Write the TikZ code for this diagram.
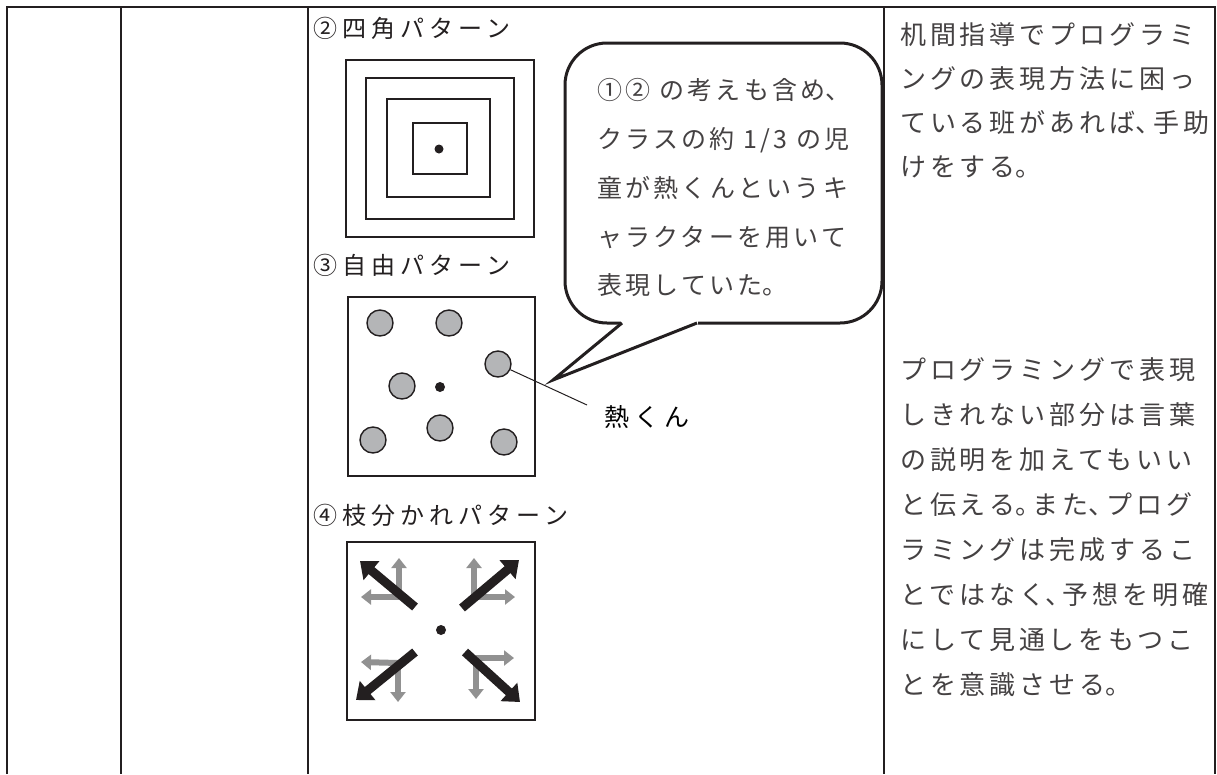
\documentclass[tikz,border=0pt]{standalone}
\usepackage{fontspec}
\usetikzlibrary{arrows.meta}
\newfontfamily\jpg[LetterSpace=21]{Noto Sans CJK JP}
\newfontfamily\jpm[LetterSpace=13]{Noto Sans CJK JP}
\newfontfamily\jpr[LetterSpace=15]{Noto Sans CJK JP}
\newcommand\jten{\makebox[0.68em][l]{、}}
\newcommand\jmaru{\makebox[0.68em][l]{。}}
\definecolor{ink}{RGB}{35,31,32}
\definecolor{dotfill}{RGB}{180,181,183}
\definecolor{arrgray}{RGB}{145,145,145}
\begin{document}
\begin{tikzpicture}[x=1pt,y=-1pt,
  rule/.style={line width=2.5pt, draw=ink},
  lbl/.style={anchor=west, inner sep=0pt, font=\jpg\fontsize{24}{28}\selectfont, text=ink},
  calltext/.style={anchor=west, inner sep=0pt, font=\jpm\fontsize{25}{28}\selectfont, text=ink!85},
  righttext/.style={anchor=west, inner sep=0pt, font=\jpr\fontsize{26}{28}\selectfont, text=ink!85},
  frame/.style={draw=ink, line width=2pt},
  chara/.style={circle, draw=ink, line width=1.4pt, fill=dotfill, minimum size=26pt, inner sep=0pt},
  centre/.style={circle, fill=ink, minimum size=10pt, inner sep=0pt},
  bigarrow/.style={draw=ink, line width=9pt, -{Triangle[length=15pt,width=24pt]}},
  smallarrow/.style={draw=arrgray, line width=6pt, -{Triangle[length=10pt,width=15pt]}},
]
\useasboundingbox (0,0) rectangle (1217,774);
% table rules
\draw[rule] (7,774) -- (7,7) -- (1215,7) -- (1215,774);
\draw[rule] (121,7) -- (121,774);
\draw[rule] (308,7) -- (308,774);
\draw[rule] (884,7) -- (884,774);

% labels
\node[lbl] (l2) at (313,28) {②四角パターン};
\node[lbl] (l3) at (313,265) {③自由パターン};
\node[lbl] (l4) at (313,515) {④枝分かれパターン};

% pattern 2: nested squares
\draw[frame] (346,60) rectangle (534,237);
\draw[frame] (366,78) rectangle (514,219);
\draw[frame] (387,99) rectangle (490,197);
\draw[frame] (413,123) rectangle (467,174);
\node[centre, minimum size=9pt] (d2) at (439,149) {};

% pattern 3: free
\draw[frame] (348,297) rectangle (535,476);
\node[centre] (d3) at (440,387) {};
\node[chara] (c1) at (380,323) {};
\node[chara] (c2) at (449,323) {};
\node[chara] (c3) at (498,364) {};
\node[chara] (c4) at (402,386) {};
\node[chara] (c5) at (440,428) {};
\node[chara] (c6) at (373,440) {};
\node[chara] (c7) at (504,442) {};
\coordinate (kp) at (587,405);
\draw[ink, line width=1pt] (c3) -- (kp);
\node[lbl, font=\jpg\fontsize{25}{28}\selectfont, text=black] (netsu) at (604,417) {熱くん};

% pattern 4: branching
\draw[frame] (347,542) rectangle (535,720);
\node[centre] (d4) at (441,630) {};
\coordinate (j1) at (399,597);
\coordinate (j2) at (474,597);
\coordinate (j3) at (398,663);
\coordinate (j4) at (476,658);
\coordinate (g1u) at (399,558); \coordinate (g1l) at (361,597);
\coordinate (g2u) at (474,558); \coordinate (g2r) at (515,597);
\coordinate (g3l) at (361,662); \coordinate (g3d) at (398,702);
\coordinate (g4r) at (514,658); \coordinate (g4d) at (476,699);
\draw[smallarrow] (j1) -- (g1u);
\draw[smallarrow] (j1) -- (g1l);
\draw[smallarrow] (j2) -- (g2u);
\draw[smallarrow] (j2) -- (g2r);
\draw[smallarrow] (j3) -- (g3l);
\draw[smallarrow] (j3) -- (g3d);
\draw[smallarrow] (j4) -- (g4r);
\draw[smallarrow] (j4) -- (g4d);
\coordinate (b1s) at (415,607); \coordinate (b1e) at (360,561);
\coordinate (b2s) at (462,608); \coordinate (b2e) at (519,560);
\coordinate (b3s) at (415,652); \coordinate (b3e) at (356,700);
\coordinate (b4s) at (465,652); \coordinate (b4e) at (520,702);
\draw[bigarrow] (b1s) -- (b1e);
\draw[bigarrow] (b2s) -- (b2e);
\draw[bigarrow] (b3s) -- (b3e);
\draw[bigarrow] (b4s) -- (b4e);

% callout
\node[draw=ink, line width=3pt, rounded corners=42pt, minimum width=317pt, minimum height=280pt, inner sep=0pt] (callout) at (723.5,183) {};
\coordinate (tl) at (622,323);
\coordinate (tip) at (553,380);
\coordinate (tr) at (697,323);
\fill[white] (621,320) rectangle (698,326);
\draw[ink, line width=3pt, line join=miter] (tl) -- (tip) -- (tr);
\node[calltext] (k1) at (597,90) {①② の考えも含め\jten};
\node[calltext] (k2) at (597,140) {クラスの約 1/3 の児};
\node[calltext] (k3) at (597,188) {童が熱くんというキ};
\node[calltext] (k4) at (597,237) {ャラクターを用いて};
\node[calltext] (k5) at (597,285) {表現していた\jmaru};

% right column
\node[righttext] (r1) at (900,35) {机間指導でプログラミ};
\node[righttext] (r2) at (900,79) {ングの表現方法に困っ};
\node[righttext] (r3) at (900,123) {ている班があれば\jten 手助};
\node[righttext] (r4) at (900,167) {けをする\jmaru};
\node[righttext] (s1) at (900,370) {プログラミングで表現};
\node[righttext] (s2) at (900,415) {しきれない部分は言葉};
\node[righttext] (s3) at (900,460) {の説明を加えてもいい};
\node[righttext] (s4) at (900,505) {と伝える\jmaru また\jten プログ};
\node[righttext] (s5) at (900,550) {ラミングは完成するこ};
\node[righttext] (s6) at (900,595) {とではなく\jten 予想を明確};
\node[righttext] (s7) at (900,640) {にして見通しをもつこ};
\node[righttext] (s8) at (900,685) {とを意識させる\jmaru};
\end{tikzpicture}
\end{document}
